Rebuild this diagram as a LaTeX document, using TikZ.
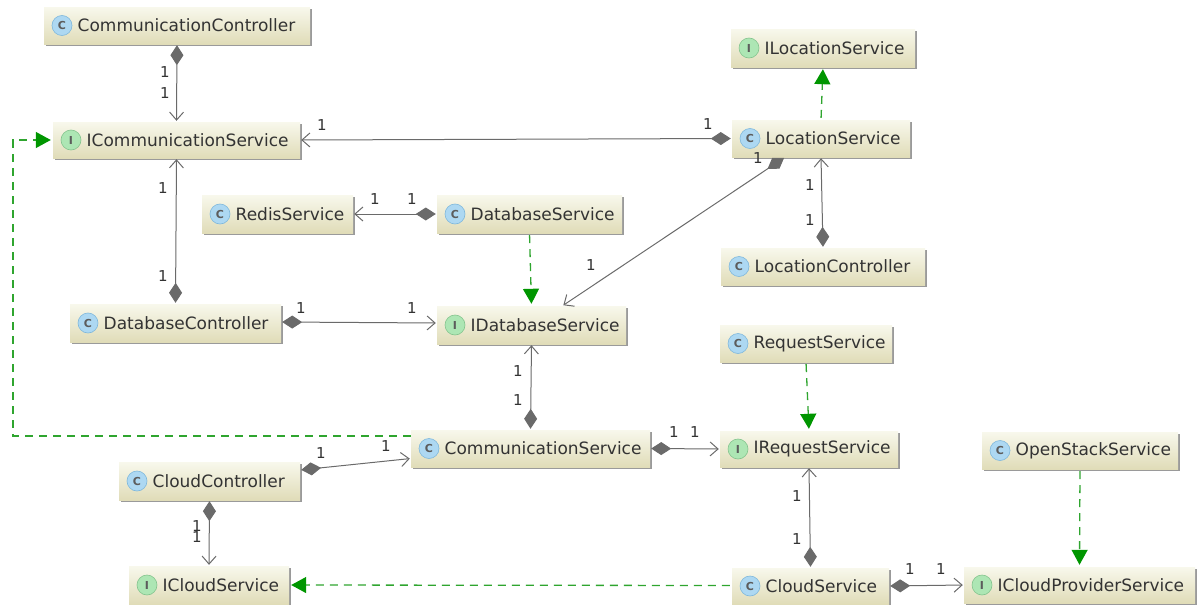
\documentclass[tikz,border=0pt]{standalone}
\usepackage{fontspec}
\setmainfont{DejaVu Sans}
\usetikzlibrary{arrows.meta,calc}
\definecolor{boxtop}{HTML}{F8F8EC}
\definecolor{boxbot}{HTML}{E0DCB8}
\definecolor{shad}{HTML}{9A9A9A}
\definecolor{lnk}{HTML}{6A6A6A}
\definecolor{dashg}{HTML}{2FA52F}
\definecolor{headg}{HTML}{009600}
\definecolor{txt}{HTML}{333333}
\definecolor{cfill}{HTML}{ADD8F2}
\definecolor{cline}{HTML}{7FB8DC}
\definecolor{ifill}{HTML}{ADE6B4}
\definecolor{iline}{HTML}{84C48E}
\tikzset{
  x=1pt,y=-1pt,
  umlbox/.style={inner sep=0pt,top color=boxtop,bottom color=boxbot,draw=none},
  umltext/.style={anchor=west,inner sep=0pt,text=txt,font=\fontsize{17}{20}\selectfont},
  cicon/.style={circle,minimum size=20pt,inner sep=0pt,fill=cfill,draw=cline,line width=0.6pt,text=txt!80,font=\fontsize{11}{11}\selectfont\bfseries},
  iicon/.style={circle,minimum size=20pt,inner sep=0pt,fill=ifill,draw=iline,line width=0.6pt,text=txt!80,font=\fontsize{11}{11}\selectfont\bfseries},
  comp/.style={draw=lnk,line width=1pt,shorten <=1pt,shorten >=1pt,
    {Diamond[length=20pt,width=13pt,fill=lnk]}-{Straight Barb[length=8pt,width=14pt,line width=1pt]}},
  impl/.style={draw=dashg,line width=1.3pt,dash pattern=on 8pt off 6pt,shorten >=2pt,shorten <=2pt,
    -{Triangle[length=15pt,width=16pt,fill=headg,color=headg,sep=0pt]}},
  mult/.style={text=txt,inner sep=0pt,font=\fontsize{15}{17}\selectfont}
}
\newcommand{\umlnode}[7]{%
  \pgfmathsetmacro{\cxv}{(#2+#4)/2}%
  \pgfmathsetmacro{\cyv}{(#3+#5)/2}%
  \pgfmathsetmacro{\wv}{#4-#2}%
  \pgfmathsetmacro{\hv}{#5-#3}%
  \pgfmathsetmacro{\ixv}{#2+18}%
  \pgfmathsetmacro{\txv}{#2+33.5}%
  \fill[shad] (#2+2,#3+2) rectangle (#4+1.5,#5+1.5);
  \node[umlbox,minimum width=\wv pt,minimum height=\hv pt] (#1) at (\cxv,\cyv) {};
  \node[#6icon] (#1-icon) at (\ixv,\cyv) {\ifx#6c C\else I\fi};
  \node[umltext] (#1-text) at (\txv,\cyv) {#7};
}
\begin{document}
\begin{tikzpicture}
\useasboundingbox (0,0) rectangle (1203,605);
\umlnode{cc}{44}{7}{310}{44}{c}{CommunicationController}
\umlnode{ics}{53}{122}{300}{158}{i}{ICommunicationService}
\umlnode{ls}{732}{120}{910}{157}{c}{LocationService}
\umlnode{il}{731}{29}{915}{67}{i}{ILocationService}
\umlnode{redis}{202}{195}{353}{233}{c}{RedisService}
\umlnode{dbs}{437}{195}{622}{233}{c}{DatabaseService}
\umlnode{lc}{721}{248}{925}{285}{c}{LocationController}
\umlnode{dc}{70}{304}{281}{342}{c}{DatabaseController}
\umlnode{idb}{437}{306}{626}{344}{i}{IDatabaseService}
\umlnode{rs}{720}{325}{892}{362}{c}{RequestService}
\umlnode{cs}{411}{430}{650}{467}{c}{CommunicationService}
\umlnode{ir}{720}{431}{898}{467}{i}{IRequestService}
\umlnode{os}{982}{432}{1178}{469}{c}{OpenStackService}
\umlnode{clc}{119}{462}{300}{500}{c}{CloudController}
\umlnode{icl}{129}{566}{289}{604}{i}{ICloudService}
\umlnode{cls}{732}{568}{889}{604}{c}{CloudService}
\umlnode{icp}{964}{567}{1195}{603}{i}{ICloudProviderService}
% composition
\draw[comp] (cc.south) -- (ics.north);
\draw[comp] (ls.west) -- (ics.east);
\draw[comp] (lc.north) -- (ls.south);
\draw[comp] ([xshift=-36pt]ls.south) -- ([xshift=31pt]idb.north);
\draw[comp] (dc.north) -- (ics.south);
\draw[comp] (dbs.west) -- (redis.east);
\draw[comp] ([yshift=1pt]dc.east) -- ([yshift=2pt]idb.west);
\draw[comp] (cs.north) -- (idb.south);
\draw[comp] (cs.east) -- (ir.west);
\draw[comp] ([yshift=11pt]clc.east) -- ([yshift=-10pt]cs.west);
\draw[comp] (clc.south) -- (icl.north);
\draw[comp] (cls.north) -- (ir.south);
\draw[comp] (cls.east) -- (icp.west);
% realisation
\coordinate (bendlow) at (13,436);
\coordinate (bendup) at (13,140);
\draw[impl] (ls.north) -- (il.south);
\draw[impl] (dbs.south) -- (idb.north);
\draw[impl] (rs.south) -- (ir.north);
\draw[impl] (os.south) -- (icp.north);
\draw[impl] ([yshift=0.5pt]cls.west) -- (icl.east);
\draw[impl,shorten <=0pt] ([yshift=12.5pt]cs.west) -- (bendlow) -- (bendup) -- (ics.west);
% multiplicities
\foreach \nm/\px/\py in {a/165/72,b/165/93,c/322/125,d/708/124,e/163/188,f/163/276,g/375/199,h/412/199,i/301/308,j/412/308,k/758/158,l/591/265,m/810/185,n/810/220,o/518/371,p/518/400,q/674/432,r/695/432,s/797/496,t/797/539,u/321/453,v/386/446,w/197/526,y/197/537,z/910/569,zz/941/569}
  \node[mult] (m\nm) at (\px,\py) {1};
\end{tikzpicture}
\end{document}
